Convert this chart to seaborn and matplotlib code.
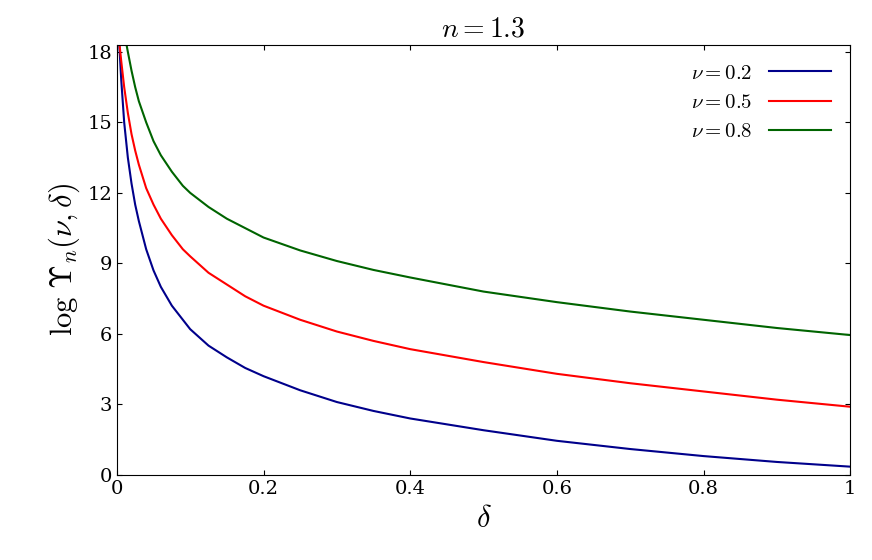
import matplotlib
matplotlib.use("Agg")
import matplotlib.pyplot as plt
import seaborn as sns
import pandas as pd

plt.rcParams["mathtext.fontset"] = "cm"
plt.rcParams["font.family"] = "serif"
plt.rcParams["font.serif"] = ["DejaVu Serif"]

# values
delta_02 = [0.003, 0.006, 0.01, 0.015, 0.02, 0.025, 0.03, 0.04, 0.05, 0.06, 0.075, 0.09, 0.1, 0.125, 0.15, 0.175, 0.2, 0.25, 0.3, 0.35, 0.4, 0.5, 0.6, 0.7, 0.8, 0.9, 1.0]
vals_02 = [18.5, 16.8, 15.0, 13.5, 12.4, 11.5, 10.8, 9.6, 8.7, 8.0, 7.2, 6.6, 6.2, 5.5, 5.0, 4.55, 4.2, 3.6, 3.1, 2.72, 2.4, 1.9, 1.45, 1.1, 0.8, 0.55, 0.35]
delta_05 = [0.003, 0.006, 0.01, 0.015, 0.02, 0.025, 0.03, 0.04, 0.05, 0.06, 0.075, 0.09, 0.1, 0.125, 0.15, 0.175, 0.2, 0.25, 0.3, 0.35, 0.4, 0.5, 0.6, 0.7, 0.8, 0.9, 1.0]
vals_05 = [18.5, 17.6, 16.5, 15.4, 14.5, 13.8, 13.2, 12.2, 11.5, 10.9, 10.2, 9.6, 9.3, 8.6, 8.1, 7.6, 7.2, 6.6, 6.1, 5.7, 5.35, 4.8, 4.3, 3.9, 3.55, 3.2, 2.9]
delta_08 = [0.012, 0.015, 0.02, 0.025, 0.03, 0.04, 0.05, 0.06, 0.075, 0.09, 0.1, 0.125, 0.15, 0.175, 0.2, 0.25, 0.3, 0.35, 0.4, 0.5, 0.6, 0.7, 0.8, 0.9, 1.0]
vals_08 = [18.5, 18.0, 17.2, 16.5, 15.9, 15.0, 14.2, 13.6, 12.9, 12.3, 12.0, 11.4, 10.9, 10.5, 10.1, 9.55, 9.1, 8.72, 8.4, 7.8, 7.35, 6.95, 6.6, 6.25, 5.95]

labels = [r"$\nu = 0.2$", r"$\nu = 0.5$", r"$\nu = 0.8$"]
colors = ["#00008b", "#ff0000", "#006400"]

df = pd.concat([
    pd.DataFrame({"delta": delta_02, "val": vals_02, "nu": labels[0]}),
    pd.DataFrame({"delta": delta_05, "val": vals_05, "nu": labels[1]}),
    pd.DataFrame({"delta": delta_08, "val": vals_08, "nu": labels[2]}),
])

fig, ax = plt.subplots(figsize=(8.72, 5.6), dpi=100)
sns.lineplot(data=df, x="delta", y="val", hue="nu", palette=colors, ax=ax, lw=1.5, sort=True)

ax.set_xlim(0, 1)
ax.set_ylim(0, 18.3)
ax.set_xticks([0, 0.2, 0.4, 0.6, 0.8, 1])
ax.set_xticklabels(["0", "0.2", "0.4", "0.6", "0.8", "1"])
ax.set_yticks([0, 3, 6, 9, 12, 15, 18])
ax.tick_params(direction="in", top=True, right=True, labelsize=14)
ax.set_xlabel(r"$\delta$", fontsize=22)
ax.set_ylabel(r"$\log\,\Upsilon_n(\nu,\delta)$", fontsize=22)
ax.set_title(r"$n = 1.3$", fontsize=20)
leg = ax.legend(frameon=False, markerfirst=False, fontsize=15, loc="upper right", handlelength=3)
leg.set_title(None)

plt.subplots_adjust(left=0.134, right=0.975, top=0.92, bottom=0.152)
fig.savefig("out.png", dpi=100)
